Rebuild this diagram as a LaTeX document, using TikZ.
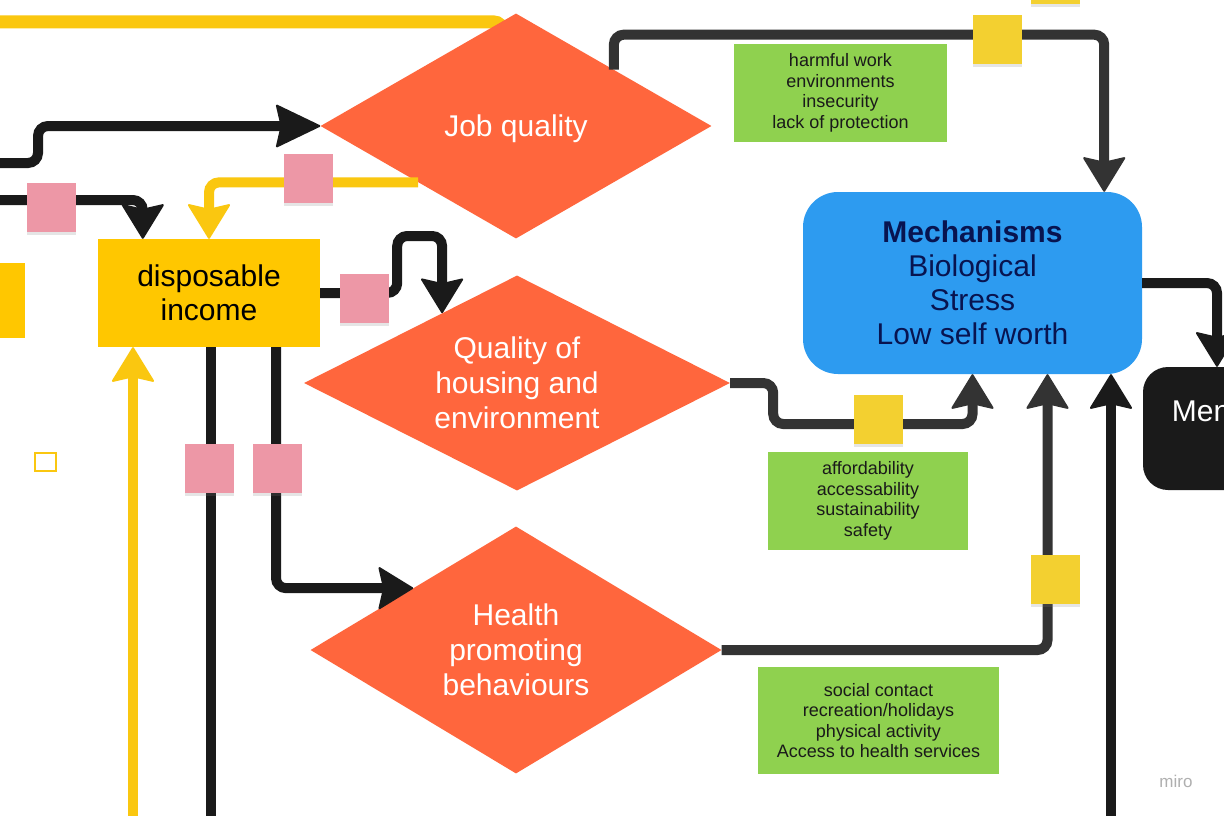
\documentclass[tikz,border=0pt]{standalone}
\usepackage{fontspec}
\setmainfont{Liberation Sans}
\usepackage{tikz}
\usetikzlibrary{arrows.meta,shapes.geometric,shadows}

\definecolor{jqorange}{RGB}{255,102,61}
\definecolor{incyellow}{RGB}{255,199,0}
\definecolor{lineyellow}{RGB}{250,199,16}
\definecolor{notepink}{RGB}{237,151,166}
\definecolor{noteyellow}{RGB}{243,208,48}
\definecolor{factgreen}{RGB}{143,209,79}
\definecolor{mechblue}{RGB}{45,155,240}
\definecolor{mechtext}{RGB}{8,20,80}
\definecolor{darkline}{RGB}{51,51,51}
\definecolor{blackline}{RGB}{26,26,26}
\definecolor{mirogray}{RGB}{175,175,175}

\tikzstyle{decision} = [diamond, aspect=2, inner sep=0pt, fill=jqorange, text=white, align=center, font=\fontsize{30}{35}\selectfont]
\tikzstyle{income} = [rectangle, minimum width=222pt, minimum height=108pt, fill=incyellow, text=black, align=center, font=\fontsize{30}{34}\selectfont]
\tikzstyle{mechanism} = [rectangle, rounded corners=35pt, minimum width=339pt, minimum height=182pt, fill=mechblue, text=mechtext, align=center, font=\fontsize{30}{34}\selectfont]
\tikzstyle{outcome} = [rectangle, rounded corners=25pt, minimum width=148pt, minimum height=123pt, fill=blackline, text=white, align=center, font=\fontsize{30}{35}\selectfont]
\tikzstyle{factor} = [rectangle, inner sep=0pt, fill=factgreen, text=blackline, align=center, font=\fontsize{18}{20.6}\selectfont]
\tikzstyle{pinknote} = [rectangle, minimum size=49pt, inner sep=0pt, fill=notepink, drop shadow={shadow xshift=0pt, shadow yshift=-3pt, opacity=0.2}]
\tikzstyle{yellownote} = [rectangle, minimum size=49pt, inner sep=0pt, fill=noteyellow, drop shadow={shadow xshift=0pt, shadow yshift=-3pt, opacity=0.2}]
\tikzstyle{conn} = [line width=10pt, rounded corners=10pt, draw=blackline, -{Stealth[length=36pt,width=44pt,inset=5pt,line width=2pt,round]}]
\tikzstyle{bigconn} = [conn, -{Stealth[length=46pt,width=44pt,inset=5pt,line width=2pt,round]}]
\tikzstyle{greyconn} = [conn, draw=darkline]
\tikzstyle{yconn} = [conn, draw=lineyellow]
\tikzstyle{plain} = [line width=10pt, draw=blackline]

\begin{document}
\begin{tikzpicture}[x=1pt,y=-1pt]
\useasboundingbox (0,0) rectangle (1224,816);
\fill [white] (0,0) rectangle (1224,816);
\clip (0,0) rectangle (1224,816);

% free ends off the page
\coordinate (topin) at (-20,22);
\coordinate (jobtop) at (502,70);
\coordinate (leftA) at (-20,163);
\coordinate (leftB) at (-20,200);
\coordinate (botY) at (133,830);
\coordinate (botA) at (211,830);
\coordinate (botB) at (1111,830);

\draw [line width=13pt, draw=lineyellow, rounded corners=8pt] (topin) -| (jobtop);

\node (job)    [decision, text depth=0pt, minimum width=391pt, minimum height=225pt] at (516,126) {Job quality};
\node (qual)   [decision, minimum width=426pt, minimum height=215pt] at (517,383) {Quality of\\housing and\\environment};
\node (health) [decision, minimum width=411pt, minimum height=247pt] at (516,650) {Health\\promoting\\behaviours};
\node (inc)    [income] at (209,293) {disposable\\income};
\node (leftbox) [rectangle, fill=incyellow, minimum width=125pt, minimum height=75pt] at (-37.5,300.5) {};
\node (mech)   [mechanism] at (972.5,283) {\textbf{Mechanisms}\\Biological\\Stress\\Low self worth};
\node (men)    [outcome] at (1217,428.5) {Mental\\\phantom{h}};

\node (harm)   [factor, minimum width=213pt, minimum height=98pt] at (840.5,93) {harmful work\\environments\\insecurity\\lack of protection};
\node (afford) [factor, minimum width=200pt, minimum height=98pt] at (868,501) {affordability\\accessability\\sustainability\\safety};
\node (social) [factor, minimum width=241pt, minimum height=107pt] at (878.5,720.5) {social contact\\recreation/holidays\\physical activity\\Access to health services};

\node (tag)  [rectangle, draw=lineyellow, line width=2pt, minimum width=21pt, minimum height=18pt, inner sep=0pt] at (45.5,462) {};
\node (miro) [text=mirogray, font=\fontsize{17}{17}\selectfont] at (1176,781) {miro};

\draw [bigconn] (leftA) -- ++(58,0) |- (job.west);
\draw [conn] (leftB) -| ([xshift=45pt]inc.north west);
\draw [yconn] (job.south west) -| (inc.north);
\draw [conn] (inc.east) -- ++(77,0) -- ++(0,-57) -| (qual.137);
\draw [plain] (botA) -- (botA |- inc.south);
\draw [conn] ([xshift=67pt]inc.south) |- (health.north west);
\draw [yconn] (botY) -- (botY |- inc.south);
\draw [greyconn] (job.north east) -- ++(0,-35) -| ([xshift=-38pt]mech.north east);
\draw [greyconn] (qual.east) -- ++(43,0) -- ++(0,41) -| (mech.south);
\draw [greyconn] (health.east) -| ([xshift=75pt]mech.south);
\draw [conn] (botB) -- (botB |- mech.south);
\draw [conn] (mech.east) -| (men.north);

\node (pinkA) [pinknote] at (51.5,207) {};
\node (pinkB) [pinknote] at (308,178) {};
\node (pinkC) [pinknote] at (364.5,298) {};
\node (pinkD) [pinknote] at (209,468) {};
\node (pinkE) [pinknote] at (277.5,468) {};
\node (noteA) [yellownote] at (997,40) {};
\node (noteB) [yellownote] at (1055,-20) {};
\node (noteC) [yellownote] at (878.5,419) {};
\node (noteD) [yellownote] at (1055,579.5) {};
\end{tikzpicture}
\end{document}
